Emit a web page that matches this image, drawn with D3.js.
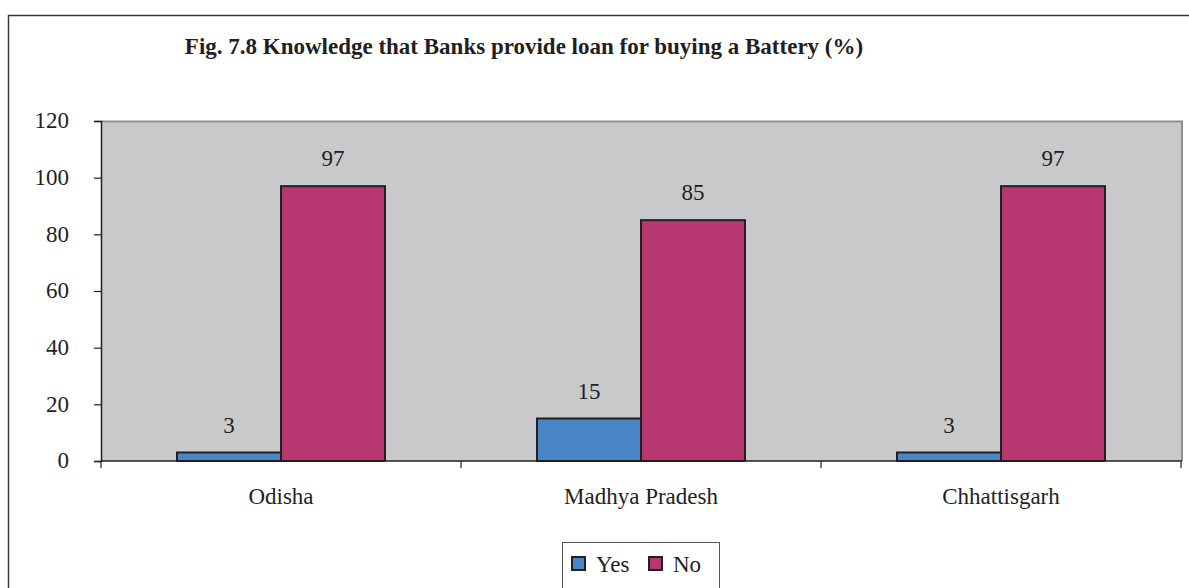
<!DOCTYPE html>
<html>
<head>
<meta charset="utf-8">
<script src="https://cdn.jsdelivr.net/npm/d3@7"></script>
<style>
  html, body { margin: 0; padding: 0; background: #fff; }
  svg { display: block; }
  svg text { font-family: "Liberation Serif", "Times New Roman", serif; }
</style>
</head>
<body>
<svg id="chart" width="1189" height="588"></svg>
<script>
// Chart data
const categories = ["Odisha", "Madhya Pradesh", "Chhattisgarh"];
const seriesNames = ["Yes", "No"];
const yesValues = [3, 15, 3];
const noValues = [97, 85, 97];
const yTicks = [0, 20, 40, 60, 80, 100, 120];
const title = "Fig. 7.8 Knowledge that Banks provide loan for buying a Battery (%)";

const colors = { Yes: "#4A86C6", No: "#B83770" };
const rows = categories.map((c, i) => ({ category: c, Yes: yesValues[i], No: noValues[i] }));
const FONT = "Liberation Serif, Times New Roman, serif";
const FS = 23;
const INK = "#231F20";

const svg = d3.select("#chart");

// Outer frame
svg.append("rect")
  .attr("x", 8.5).attr("y", 15.5)
  .attr("width", 1200).attr("height", 600)
  .attr("fill", "none").attr("stroke", "#3a3a3a").attr("stroke-width", 1.5);

// Title
svg.append("text")
  .attr("x", 524).attr("y", 54)
  .attr("text-anchor", "middle")
  .attr("font-family", FONT)
  .attr("font-size", FS).attr("font-weight", "bold")
  .attr("fill", INK)
  .text(title);

const plot = { left: 101, right: 1181, top: 121, bottom: 461 };

const x0 = d3.scaleBand().domain(categories).range([plot.left, plot.right]).paddingInner(0).paddingOuter(0);
const groupWidth = 208;
const x1 = d3.scaleBand().domain(seriesNames).range([0, groupWidth]).padding(0);
const y = d3.scaleLinear().domain([0, 120]).range([plot.bottom, plot.top]);

// Plot background
svg.append("rect")
  .attr("x", plot.left).attr("y", plot.top)
  .attr("width", plot.right - plot.left).attr("height", plot.bottom - plot.top)
  .attr("fill", "#C8C9CB");
// Plot top/right border
svg.append("path")
  .attr("d", `M${plot.left},${plot.top + 0.5}H${plot.right + 1}V${plot.bottom}`)
  .attr("fill", "none").attr("stroke", "#8f8f8f").attr("stroke-width", 2);

// Bars
const groups = svg.append("g").selectAll("g").data(rows).join("g")
  .attr("transform", d => `translate(${x0(d.category) + (x0.bandwidth() - groupWidth) / 2},0)`);

groups.selectAll("rect").data(d => seriesNames.map(k => ({ key: k, value: d[k] }))).join("rect")
  .attr("x", d => x1(d.key))
  .attr("y", d => y(d.value))
  .attr("width", x1.bandwidth())
  .attr("height", d => y(0) - y(d.value))
  .attr("fill", d => colors[d.key])
  .attr("stroke", INK).attr("stroke-width", 2);

groups.selectAll("text.val").data(d => seriesNames.map(k => ({ key: k, value: d[k] }))).join("text")
  .attr("class", "val")
  .attr("x", d => x1(d.key) + x1.bandwidth() / 2)
  .attr("y", d => y(d.value) - 20)
  .attr("text-anchor", "middle")
  .attr("font-family", FONT)
  .attr("font-size", FS).attr("fill", INK)
  .text(d => d.value);

// Y axis
const yAxis = svg.append("g")
  .attr("transform", `translate(${plot.left},0)`)
  .call(d3.axisLeft(y).tickValues(yTicks).tickSize(7).tickPadding(25))
  .attr("font-family", FONT)
  .attr("font-size", FS);
yAxis.select(".domain").attr("stroke", INK).attr("stroke-width", 1.5);
yAxis.selectAll(".tick line").attr("stroke", INK).attr("stroke-width", 1.2);
yAxis.selectAll("text").attr("fill", INK).attr("dy", "0.3em");

// X axis with ticks at category boundaries
const xAxis = svg.append("g").attr("transform", `translate(0,${plot.bottom})`);
xAxis.append("line")
  .attr("x1", plot.left).attr("x2", plot.right + 1)
  .attr("stroke", INK).attr("stroke-width", 1.5);
const bounds = categories.map(c => x0(c)).concat([x0.range()[1]]);
xAxis.selectAll("line.tick").data(bounds).join("line")
  .attr("class", "tick")
  .attr("x1", d => d).attr("x2", d => d)
  .attr("y1", 0).attr("y2", 7)
  .attr("stroke", INK).attr("stroke-width", 1.2);
xAxis.selectAll("text").data(categories).join("text")
  .attr("x", d => x0(d) + x0.bandwidth() / 2)
  .attr("y", 43)
  .attr("text-anchor", "middle")
  .attr("font-family", FONT)
  .attr("font-size", FS).attr("fill", INK)
  .text(d => d);

// Legend
const legend = svg.append("g");
legend.append("rect")
  .attr("x", 562.5).attr("y", 542.5).attr("width", 157).attr("height", 60)
  .attr("fill", "#fff").attr("stroke", "#555").attr("stroke-width", 1);
const legendPos = { Yes: 572, No: 649 };
seriesNames.forEach(k => {
  legend.append("rect")
    .attr("x", legendPos[k]).attr("y", 557).attr("width", 13).attr("height", 13)
    .attr("fill", colors[k]).attr("stroke", INK).attr("stroke-width", 2);
  legend.append("text")
    .attr("x", legendPos[k] + 24).attr("y", 572)
    .attr("font-family", FONT)
    .attr("font-size", FS).attr("fill", INK)
    .text(k);
});
</script>
</body>
</html>
